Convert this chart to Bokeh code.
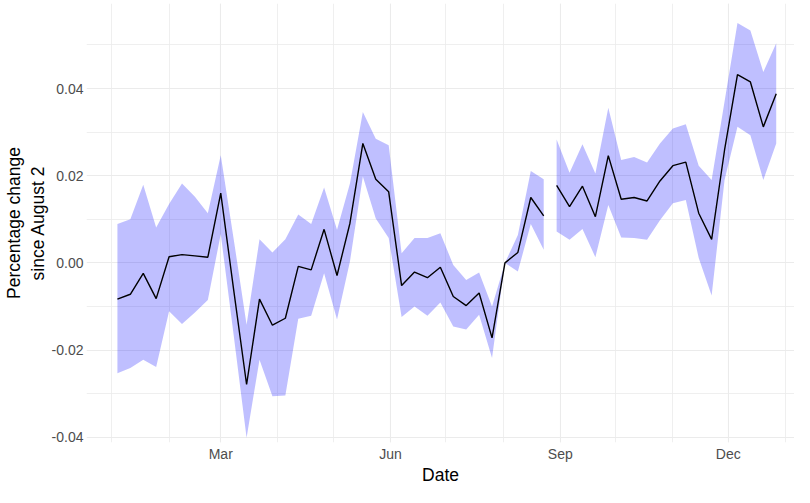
import pandas as pd
from bokeh.plotting import figure
from bokeh.models import ColumnDataSource, FixedTicker, DatetimeTickFormatter, PrintfTickFormatter, Range1d
from bokeh.embed import file_html
from bokeh.resources import INLINE

# Weekly observations (Mondays, 2021)
dates = list(pd.date_range("2021-01-04", periods=52, freq="7D"))

estimate = [
    -0.0083, -0.0072, -0.0024, -0.0082, 0.0014, 0.0019, 0.0016, 0.0013, 0.0160, -0.0062,
    -0.0279, -0.0083, -0.0143, -0.0127, -0.0008, -0.0016, 0.0077, -0.0029, 0.0091, 0.0274,
    0.0192, 0.0163, -0.0052, -0.0021, -0.0034, -0.0010, -0.0077, -0.0098, -0.0069, -0.0172,
    0.0000, 0.0024, 0.0150, 0.0108, 0.0178, 0.0129, 0.0176, 0.0106, 0.0246, 0.0146,
    0.0150, 0.0142, 0.0188, 0.0223, 0.0231, 0.0114, 0.0054, 0.0259, 0.0432, 0.0415,
    0.0312, 0.0388]

upper = [
    0.0089, 0.0100, 0.0179, 0.0081, 0.0135, 0.0182, 0.0152, 0.0114, 0.0247, 0.0055,
    -0.0142, 0.0054, 0.0024, 0.0054, 0.0111, 0.0089, 0.0173, 0.0076, 0.0182, 0.0346,
    0.0285, 0.0270, 0.0022, 0.0057, 0.0057, 0.0068, -0.0005, -0.0039, -0.0022, -0.0100,
    0.0000, 0.0064, 0.0211, 0.0192, 0.0283, 0.0207, 0.0272, 0.0205, 0.0356, 0.0236,
    0.0243, 0.0230, 0.0274, 0.0308, 0.0318, 0.0223, 0.0190, 0.0370, 0.0550, 0.0533,
    0.0438, 0.0504]

lower = [
    -0.0253, -0.0241, -0.0222, -0.0239, -0.0111, -0.0140, -0.0114, -0.0085, 0.0066, -0.0166,
    -0.0401, -0.0222, -0.0306, -0.0304, -0.0128, -0.0121, -0.0024, -0.0130, 0.0003, 0.0198,
    0.0102, 0.0057, -0.0124, -0.0100, -0.0121, -0.0091, -0.0146, -0.0153, -0.0119, -0.0218,
    0.0000, -0.0020, 0.0089, 0.0030, 0.0072, 0.0053, 0.0078, 0.0013, 0.0133, 0.0058,
    0.0057, 0.0053, 0.0098, 0.0137, 0.0144, 0.0011, -0.0075, 0.0190, 0.0312, 0.0293,
    0.0190, 0.0274]

# The series is drawn as two separate pieces, split at this date
segment_start_2 = pd.Timestamp("2021-08-30")

x_major_labels = ["2021-03-01", "2021-06-01", "2021-09-01", "2021-12-01"]
x_minor_months = pd.date_range("2021-01-01", "2022-01-01", freq="MS")
y_major_ticks = [-0.04, -0.02, 0.0, 0.02, 0.04]
y_minor_ticks = [-0.05, -0.03, -0.01, 0.01, 0.03, 0.05]

df = pd.DataFrame({"date": dates, "est": estimate, "hi": upper, "lo": lower})
seg1 = ColumnDataSource(df[df["date"] < segment_start_2])
seg2 = ColumnDataSource(df[df["date"] >= segment_start_2])

jan1 = pd.Timestamp("2021-01-01")
x_start = jan1 - pd.Timedelta(days=13.75)
x_end = jan1 + pd.Timedelta(days=369.9)

p = figure(width=794, height=487, x_axis_type="datetime",
           output_backend="svg", toolbar_location=None,
           x_range=Range1d(x_start, x_end), y_range=Range1d(-0.0412, 0.0595),
           min_border_left=0, min_border_right=0, min_border_top=3, min_border_bottom=0)

for src in (seg1, seg2):
    p.varea(x="date", y1="lo", y2="hi", source=src, fill_color="#0000FF", fill_alpha=0.25)
    p.line(x="date", y="est", source=src, line_color="black", line_width=1.4)

to_ms = lambda t: pd.Timestamp(t).value / 1e6
p.xaxis.ticker = FixedTicker(ticks=[to_ms(t) for t in x_major_labels],
                             minor_ticks=[to_ms(t) for t in x_minor_months])
p.xaxis.formatter = DatetimeTickFormatter(days="%b", months="%b", years="%b")
p.yaxis.ticker = FixedTicker(ticks=y_major_ticks, minor_ticks=y_minor_ticks)
p.yaxis.formatter = PrintfTickFormatter(format="%.2f")

p.xaxis.axis_label = "Date"
p.yaxis.axis_label = "Percentage change\nsince August 2"

for ax in (p.xaxis, p.yaxis):
    ax.axis_line_color = None
    ax.major_tick_line_color = None
    ax.minor_tick_line_color = None
    ax.major_tick_out = 0
    ax.major_tick_in = 0
    ax.minor_tick_out = 0
    ax.minor_tick_in = 0
    ax.major_label_text_font = "Liberation Sans"
    ax.major_label_text_font_size = "14px"
    ax.major_label_text_color = "#4D4D4D"
    ax.axis_label_text_font = "Liberation Sans"
    ax.axis_label_text_font_size = "17.5px"
    ax.axis_label_text_font_style = "normal"
    ax.axis_label_text_color = "black"

p.xaxis.major_label_standoff = 3
p.xaxis.axis_label_standoff = 0
p.yaxis.major_label_standoff = 3
p.yaxis.axis_label_standoff = 1

for g in (p.xgrid, p.ygrid):
    g.grid_line_color = "#EBEBEB"
    g.grid_line_width = 1.1
    g.minor_grid_line_color = "#EBEBEB"
    g.minor_grid_line_width = 0.8

p.outline_line_color = None
p.background_fill_color = "white"
p.border_fill_color = "white"

open("out.html", "w").write(file_html(p, INLINE))
